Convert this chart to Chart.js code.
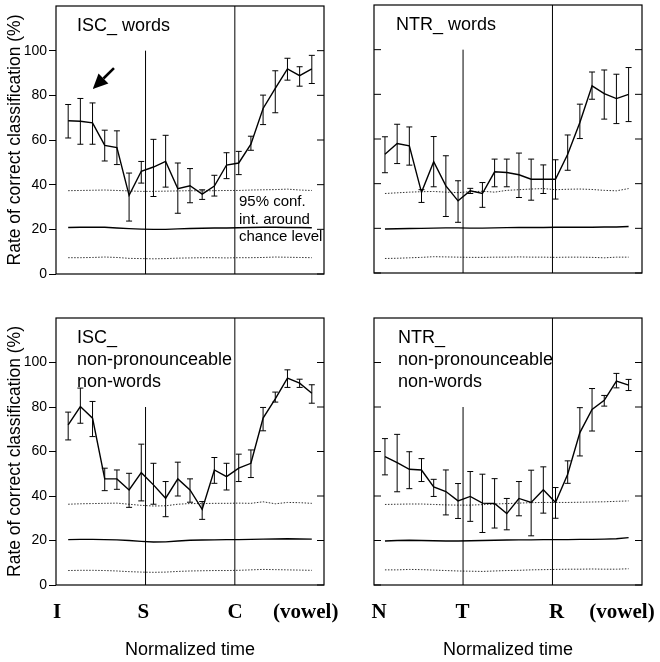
<!DOCTYPE html>
<html>
<head>
<meta charset="utf-8">
<script src="https://cdn.jsdelivr.net/npm/chart.js@4.4.0/dist/chart.umd.min.js"></script>
<style>
  body { margin: 0; background: #fff; }
  #wrap { position: relative; width: 660px; height: 662px; }
  #wrap canvas { position: absolute; }
</style>
</head>
<body>
<div id="wrap">
  <canvas id="iscWords" width="340" height="300" style="left:0;top:0"></canvas>
  <canvas id="ntrWords" width="320" height="300" style="left:340px;top:0"></canvas>
  <canvas id="iscNonWords" width="340" height="362" style="left:0;top:300px"></canvas>
  <canvas id="ntrNonWords" width="320" height="362" style="left:340px;top:300px"></canvas>
</div>
<script>
// normalized time steps (21 windows) and y ticks
const timeSteps = [0, 1, 2, 3, 4, 5, 6, 7, 8, 9, 10, 11, 12, 13, 14, 15, 16, 17, 18, 19, 20];
const yTicks = [0, 20, 40, 60, 80, 100];

// x-axis landmarks
const iscLabels = ['I', 'S', 'C', '(vowel)'];
const iscLabelPos = [-0.92, 6.17, 13.7, 19.5];
const ntrLabels = ['N', 'T', 'R', '(vowel)'];
const ntrLabelPos = [-0.49, 6.36, 14.08, 19.46];

// ISC_ words
const iscWordsMean = [68.6, 68.4, 67.7, 57.6, 56.6, 35.2, 46.0, 47.9, 50.4, 38.2, 39.5, 35.8, 39.4, 48.8, 49.7, 58.1, 74.1, 83.1, 91.8, 88.8, 91.8];
const iscWordsHigh = [75.9, 78.6, 76.6, 64.4, 64.1, 45.2, 50.4, 60.3, 62.1, 49.7, 47.2, 37.7, 44.2, 54.3, 54.9, 61.7, 80.1, 91.0, 96.6, 92.8, 97.9];
const iscWordsLow = [60.9, 58.1, 58.1, 50.6, 49.0, 23.7, 40.7, 34.7, 38.9, 27.2, 31.9, 33.4, 34.9, 42.7, 44.5, 55.4, 66.9, 72.2, 86.8, 84.1, 85.3];
const iscWordsChanceHi = [37.3, 37.4, 37.5, 37.6, 37.4, 37.2, 37.0, 37.0, 37.1, 37.2, 37.3, 37.2, 37.3, 37.4, 37.4, 37.6, 37.7, 37.8, 38.0, 37.6, 37.4];
const iscWordsChance = [20.8, 20.9, 21.0, 20.9, 20.6, 20.3, 20.1, 20.0, 20.0, 20.2, 20.4, 20.5, 20.6, 20.6, 20.7, 20.8, 20.9, 20.9, 20.8, 20.8, 20.7];
const iscWordsChanceLo = [7.3, 7.3, 7.4, 7.6, 7.4, 7.0, 6.9, 6.8, 6.9, 7.1, 7.2, 7.3, 7.3, 7.2, 7.3, 7.3, 7.4, 7.6, 7.5, 7.4, 7.3];

// NTR_ words
const ntrWordsMean = [53.2, 58.0, 56.9, 36.1, 49.8, 39.0, 32.3, 36.8, 35.6, 45.3, 45.0, 44.0, 42.0, 42.0, 42.0, 53.2, 67.4, 83.8, 80.3, 78.1, 80.0];
const ntrWordsHigh = [61.0, 66.6, 65.4, 37.3, 61.1, 52.5, 41.3, 37.9, 40.5, 51.0, 51.0, 53.7, 51.0, 48.4, 50.7, 61.8, 75.6, 90.0, 90.9, 89.0, 92.0];
const ntrWordsLow = [44.9, 49.0, 48.3, 31.6, 38.6, 25.3, 22.7, 35.6, 29.4, 38.6, 38.6, 33.8, 32.6, 35.6, 33.1, 46.0, 60.2, 77.8, 68.9, 66.9, 67.8];
const ntrWordsChanceHi = [35.6, 35.9, 36.2, 36.4, 36.5, 36.2, 36.0, 36.4, 36.6, 36.2, 37.0, 37.3, 37.6, 37.8, 37.3, 37.5, 37.6, 37.4, 37.0, 36.8, 37.8];
const ntrWordsChance = [19.7, 19.8, 19.9, 20.0, 20.1, 20.2, 20.2, 20.1, 20.1, 20.2, 20.3, 20.4, 20.4, 20.4, 20.5, 20.5, 20.5, 20.5, 20.6, 20.6, 20.8];
const ntrWordsChanceLo = [6.5, 6.6, 6.8, 7.0, 7.3, 7.2, 7.1, 7.0, 7.0, 7.1, 7.1, 7.2, 7.1, 7.1, 7.0, 7.1, 7.1, 7.0, 6.8, 7.1, 7.1];

// ISC_ non-pronounceable non-words
const iscNonMean = [72.0, 80.2, 75.0, 47.7, 47.7, 42.7, 50.5, 45.0, 39.0, 47.7, 42.7, 34.0, 51.7, 48.7, 52.5, 54.7, 75.0, 83.7, 93.0, 90.7, 86.2];
const iscNonHigh = [77.7, 88.5, 82.5, 52.5, 51.7, 50.2, 63.3, 54.7, 46.5, 55.2, 47.7, 37.5, 57.3, 54.7, 58.8, 60.7, 79.8, 86.7, 96.7, 92.5, 90.0];
const iscNonLow = [65.2, 72.7, 66.7, 42.4, 43.0, 34.9, 37.8, 36.3, 30.7, 40.0, 37.2, 29.5, 45.7, 42.7, 46.5, 48.3, 69.3, 82.2, 88.8, 88.8, 81.7];
const iscNonChanceHi = [36.3, 36.5, 36.6, 36.7, 36.8, 36.3, 35.8, 35.5, 35.6, 36.3, 36.6, 36.6, 36.7, 36.7, 36.8, 36.7, 37.4, 36.5, 37.1, 37.0, 36.7];
const iscNonChance = [20.4, 20.5, 20.5, 20.4, 20.3, 20.0, 19.6, 19.3, 19.4, 19.8, 20.1, 20.2, 20.3, 20.4, 20.4, 20.5, 20.6, 20.7, 20.8, 20.7, 20.6];
const iscNonChanceLo = [6.5, 6.6, 6.6, 6.5, 6.3, 6.0, 5.8, 5.7, 5.8, 6.1, 6.3, 6.4, 6.5, 6.5, 6.6, 6.8, 7.0, 6.9, 6.8, 6.7, 6.6];

// NTR_ non-pronounceable non-words
const ntrNonMean = [57.7, 55.0, 52.0, 51.7, 44.1, 42.0, 37.8, 39.8, 36.8, 36.6, 32.1, 38.9, 37.1, 42.8, 37.1, 49.8, 68.5, 78.9, 83.0, 91.6, 89.8];
const ntrNonHigh = [65.8, 67.7, 59.9, 56.8, 47.5, 51.7, 45.6, 51.0, 49.8, 47.8, 38.9, 46.5, 51.6, 53.1, 43.8, 55.8, 79.7, 88.3, 85.2, 95.1, 92.4];
const ntrNonLow = [49.5, 41.9, 43.3, 46.5, 39.8, 31.5, 29.9, 28.6, 23.6, 25.6, 24.8, 31.1, 22.1, 32.3, 30.0, 45.7, 58.0, 69.2, 80.4, 88.6, 87.4];
const ntrNonChanceHi = [36.2, 36.3, 36.4, 36.4, 36.2, 36.0, 35.9, 35.9, 36.1, 36.4, 36.6, 36.8, 37.0, 37.1, 37.1, 37.1, 37.2, 37.3, 37.4, 37.6, 37.8];
const ntrNonChance = [19.8, 20.0, 20.1, 20.0, 19.9, 19.8, 19.8, 19.9, 20.0, 20.1, 20.2, 20.3, 20.3, 20.4, 20.4, 20.4, 20.5, 20.5, 20.6, 20.8, 21.3];
const ntrNonChanceLo = [6.8, 6.8, 7.0, 6.9, 6.7, 6.5, 6.3, 6.2, 6.1, 6.3, 6.5, 6.6, 6.8, 6.9, 7.0, 7.1, 7.1, 7.2, 7.1, 7.1, 7.3];

const sans = '"Liberation Sans", Arial, sans-serif';
const pts = vals => vals.map((v, i) => ({ x: timeSteps[i], y: v }));

// frame, inner ticks, segment lines, error bars and panel text
const panelDeco = {
  id: 'panelDeco',
  afterDatasetsDraw(chart, args, o) {
    const { ctx, chartArea: a } = chart;
    const x = chart.scales.x, y = chart.scales.y;
    ctx.save();
    ctx.strokeStyle = '#000';
    ctx.fillStyle = '#000';
    ctx.lineWidth = 1.2;
    ctx.strokeRect(a.left, a.top, a.right - a.left, a.bottom - a.top);

    ctx.lineWidth = 1;
    ctx.beginPath();
    yTicks.forEach(v => {
      const py = y.getPixelForValue(v);
      if (o.innerLeft) { ctx.moveTo(a.left, py); ctx.lineTo(a.left + 7, py); }
      ctx.moveTo(a.right - 7, py); ctx.lineTo(a.right, py);
    });
    ctx.stroke();

    ctx.beginPath();
    o.markers.forEach(m => {
      const px = x.getPixelForValue(m.at);
      ctx.moveTo(px, y.getPixelForValue(0));
      ctx.lineTo(px, y.getPixelForValue(m.top));
    });
    ctx.stroke();

    // error bars
    ctx.beginPath();
    timeSteps.forEach((t, i) => {
      const px = x.getPixelForValue(t);
      const hi = y.getPixelForValue(o.high[i]);
      const lo = y.getPixelForValue(o.low[i]);
      ctx.moveTo(px, hi); ctx.lineTo(px, lo);
      ctx.moveTo(px - 3, hi); ctx.lineTo(px + 3, hi);
      ctx.moveTo(px - 3, lo); ctx.lineTo(px + 3, lo);
    });
    ctx.stroke();

    ctx.font = '18px ' + sans;
    ctx.textBaseline = 'middle';
    o.title.forEach((line, i) => ctx.fillText(line, a.left + o.titleDx, a.top + 20 + i * 22));

    if (o.note) {
      ctx.font = '15px ' + sans;
      const nx = x.getPixelForValue(o.note.x), ny = y.getPixelForValue(o.note.y);
      o.note.lines.forEach((line, i) => ctx.fillText(line, nx, ny + i * 17.5));
    }

    if (o.arrow) {
      const x0 = x.getPixelForValue(o.arrow.from[0]), y0 = y.getPixelForValue(o.arrow.from[1]);
      const x1 = x.getPixelForValue(o.arrow.to[0]), y1 = y.getPixelForValue(o.arrow.to[1]);
      const ang = Math.atan2(y1 - y0, x1 - x0);
      const bx = x1 - 15 * Math.cos(ang), by = y1 - 15 * Math.sin(ang);
      ctx.lineWidth = 2.6;
      ctx.beginPath();
      ctx.moveTo(x0, y0); ctx.lineTo(bx, by);
      ctx.stroke();
      ctx.beginPath();
      ctx.moveTo(x1, y1);
      ctx.lineTo(bx + 7 * Math.sin(ang), by - 7 * Math.cos(ang));
      ctx.lineTo(bx - 7 * Math.sin(ang), by + 7 * Math.cos(ang));
      ctx.closePath();
      ctx.fill();
    }
    ctx.restore();
  }
};

function makePanel(id, p) {
  const dotted = { borderColor: '#333', borderWidth: 1, borderDash: [1.5, 1.5] };
  const xScale = { type: 'linear', min: p.xMin, max: p.xMax, display: false };
  if (p.labels) {
    Object.assign(xScale, {
      display: true,
      afterBuildTicks: s => { s.ticks = p.labelPos.map(v => ({ value: v })); },
      afterFit: s => { s.height = 77; s.paddingLeft = 0; s.paddingRight = 0; },
      grid: { display: false, drawTicks: false },
      border: { display: false },
      ticks: {
        autoSkip: false, maxRotation: 0, minRotation: 0, padding: 15, color: '#000',
        font: { family: '"Liberation Serif", "Times New Roman", serif', size: 21, weight: 'bold' },
        callback: (v, i) => p.labels[i]
      },
      title: { display: true, text: 'Normalized time', color: '#000', font: { family: sans, size: 18 }, padding: { top: 0, bottom: 1 } }
    });
  }
  const yScale = { min: 0, max: 120, display: false };
  if (p.yAxis) {
    Object.assign(yScale, {
      display: true,
      afterBuildTicks: s => { s.ticks = yTicks.map(v => ({ value: v })); },
      afterFit: s => { s.width = 56; s.paddingTop = 0; s.paddingBottom = 0; },
      grid: { drawOnChartArea: false, drawTicks: true, tickLength: 7, color: '#000' },
      border: { display: false },
      ticks: { color: '#000', padding: 2, font: { family: sans, size: 14 } },
      title: { display: true, text: 'Rate of correct classification (%)', color: '#000', font: { family: sans, size: 17.5 }, padding: { top: 5, bottom: 0 } }
    });
  }

  new Chart(document.getElementById(id), {
    type: 'line',
    data: {
      datasets: [
        { data: pts(p.mean), borderColor: '#000', borderWidth: 1.4 },
        Object.assign({ data: pts(p.chanceHi) }, dotted),
        { data: pts(p.chance), borderColor: '#000', borderWidth: 1.4 },
        Object.assign({ data: pts(p.chanceLo) }, dotted)
      ]
    },
    options: {
      responsive: false,
      animation: false,
      elements: { point: { radius: 0 }, line: { tension: 0 } },
      layout: { padding: p.pad },
      scales: { x: xScale, y: yScale },
      plugins: {
        legend: { display: false },
        tooltip: { enabled: false },
        panelDeco: {
          high: p.high, low: p.low, markers: p.markers, title: p.title, titleDx: p.titleDx,
          innerLeft: !p.yAxis, note: p.note, arrow: p.arrow
        }
      }
    },
    plugins: [panelDeco]
  });
}

makePanel('iscWords', {
  mean: iscWordsMean, high: iscWordsHigh, low: iscWordsLow,
  chanceHi: iscWordsChanceHi, chance: iscWordsChance, chanceLo: iscWordsChanceLo,
  xMin: -1, xMax: 21, yAxis: true,
  pad: { left: 0, right: 16, top: 6, bottom: 26 },
  markers: [{ at: 6.35, top: 100 }, { at: 13.68, top: 120 }],
  title: ['ISC_ words'], titleDx: 21,
  note: { x: 14.02, y: 32.2, lines: ['95% conf.', 'int. around', 'chance level'] },
  arrow: { from: [3.76, 92.2], to: [2.02, 82.8] }
});

makePanel('ntrWords', {
  mean: ntrWordsMean, high: ntrWordsHigh, low: ntrWordsLow,
  chanceHi: ntrWordsChanceHi, chance: ntrWordsChance, chanceLo: ntrWordsChanceLo,
  xMin: -0.9, xMax: 21.1, yAxis: false,
  pad: { left: 34, right: 18, top: 5, bottom: 27 },
  markers: [{ at: 6.41, top: 100 }, { at: 13.75, top: 120 }],
  title: ['NTR_ words'], titleDx: 22
});

makePanel('iscNonWords', {
  mean: iscNonMean, high: iscNonHigh, low: iscNonLow,
  chanceHi: iscNonChanceHi, chance: iscNonChance, chanceLo: iscNonChanceLo,
  xMin: -1, xMax: 21, yAxis: true, labels: iscLabels, labelPos: iscLabelPos,
  pad: { left: 0, right: 16, top: 18, bottom: 0 },
  markers: [{ at: 6.35, top: 80 }, { at: 13.68, top: 120 }],
  title: ['ISC_', 'non-pronounceable', 'non-words'], titleDx: 21
});

makePanel('ntrNonWords', {
  mean: ntrNonMean, high: ntrNonHigh, low: ntrNonLow,
  chanceHi: ntrNonChanceHi, chance: ntrNonChance, chanceLo: ntrNonChanceLo,
  xMin: -0.9, xMax: 21.1, yAxis: false, labels: ntrLabels, labelPos: ntrLabelPos,
  pad: { left: 34, right: 18, top: 18, bottom: 0 },
  markers: [{ at: 6.41, top: 80 }, { at: 13.75, top: 120 }],
  title: ['NTR_', 'non-pronounceable', 'non-words'], titleDx: 24
});
</script>
</body>
</html>
